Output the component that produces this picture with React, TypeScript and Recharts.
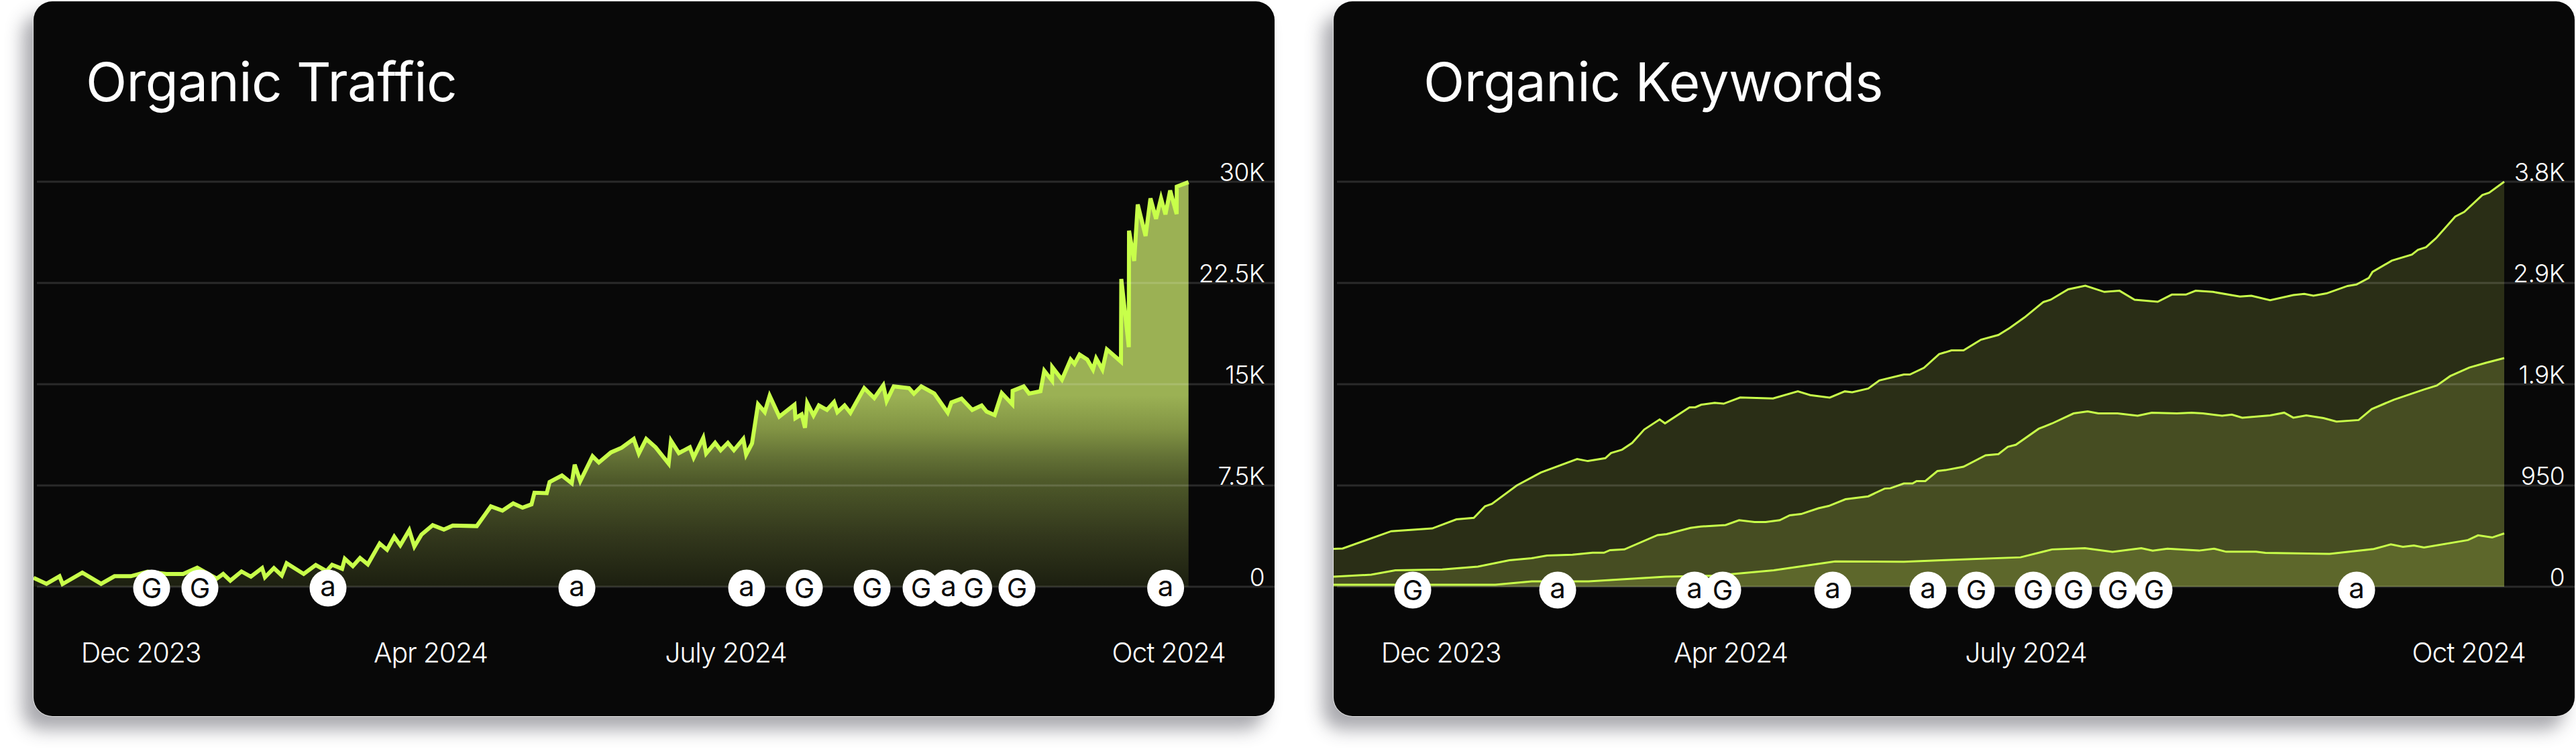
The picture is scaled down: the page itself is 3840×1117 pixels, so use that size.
import React from "react";
import { ComposedChart, Area, XAxis, YAxis, ReferenceLine, ReferenceDot } from "recharts";

const monthLabels = ["Dec 2023", "Apr 2024", "July 2024", "Oct 2024"];

const trafficPos = [
  0,19.3,38.7,43.3,72.7,100.7,120.7,145,170,198,
  223,244,273,282.7,293.3,310,324,340.7,345,358.3,
  370,377.3,402.7,420.7,436.7,445,460,464,476,486.7,
  498.3,516,527,537.7,546.7,560,567.7,578.3,595,611.7,
  625,660.7,681.7,699,715,729,742.3,746.7,765,769.3,
  787.7,802.3,806.7,815,833.3,842.7,860.7,876.7,894.7,902.3,
  913.3,927.3,946.7,950.3,962,978.3,984,998.3,1002.7,1016,
  1024.3,1035,1044,1058,1062.3,1071,1080,1090,1097.3,1111.7,
  1134.3,1135.7,1145,1150,1153.3,1162.7,1170.7,1182.7,1193.3,1198.3,
  1209,1217.7,1238.3,1253.3,1266.7,1271.7,1282.3,1305,1312.3,1323.3,
  1342.7,1362.7,1368.3,1383.3,1399.3,1413.3,1420.7,1432.7,1443.3,1459,
  1459.5,1476,1484,1501,1506.7,1518.3,1518.6,1533,1546,1551.7,
  1559.3,1570.7,1579.3,1584,1593.3,1600,1621,1621.5,1632.7,1633,
  1640.7,1646,1657.7,1665,1673.3,1680.7,1687.3,1694.3,1704,1704.2,1721.7,
];
const trafficVal = [
  660,215,780,200,1045,215,780,780,1110,945,
  945,1410,600,945,450,1130,745,1380,700,1380,
  830,1740,945,1610,1160,1625,1330,2075,1525,2125,
  1660,3200,2735,3700,3070,4190,2985,3865,4560,4230,
  4530,4490,5950,5640,6170,5855,6100,6965,6930,7760,
  8240,7660,9040,7825,9670,9200,9950,10300,10945,9870,
  10945,10330,9120,10810,9900,10330,9570,11030,9870,10660,
  10115,10660,10115,10945,9785,10610,13515,12935,14145,12600,
  13480,12490,12770,11775,13600,12690,13430,13100,13680,12935,
  13430,12885,14710,13980,14925,13765,14840,14710,14300,14840,
  14310,12900,13650,13930,13100,13430,12970,12720,14340,13515,
  14510,14840,14310,14480,16000,15260,16270,15340,16830,16500,
  17200,16830,16090,16915,16090,17580,16670,22800,17745,26370,
  24130,28310,25980,28770,27250,28770,27580,29350,27610,29640,29970,
];
const trafficTicks = [0, 7500, 15000, 22500, 30000];
const trafficTickLabels = ["0", "7.5K", "15K", "22.5K", "30K"];
const trafficBadgePos = [176, 248, 439, 810, 1063, 1149, 1250, 1323, 1364, 1401.5, 1466, 1687.6];
const trafficBadgeKind = ["G", "G", "a", "a", "a", "G", "G", "G", "a", "G", "G", "a"];

const kwTopPos = [
  0,13.5,86,147,183,209,225.6,236,273,309,363,379,405,413.5,430,445,463,486,494,530.5,
  539,548,568,581.4,606,655,692,710.5,739.6,762,773,797,813.5,850,859,880,902.6,912,921,939,
  965,991,1008,1030,1058,1069,1095,1120.6,1149,1171.6,1194,1228.5,1249.5,1270.5,1285,1311,1351,1368,1396,1430.6,
  1447,1460.6,1480,1511.5,1524.7,1543,1548.7,1577.5,1607.4,1616.4,1628.4,1643.4,1672,1685.4,1712.4,1722.5,1745,
];
const kwTopVal = [
  355,359,521,547,632,646,754,777,950,1072,1198,1179,1206,1255,1286,1349,1475,1569,1533,1683,
  1683,1708,1726,1717,1775,1766,1833,1798,1775,1833,1824,1860,1936,1991,1991,2054,2183,2200,2218,2218,
  2318,2362,2428,2527,2671,2693,2790,2825,2766,2777,2693,2674,2741,2741,2777,2766,2722,2730,2689,2737,
  2748,2730,2752,2822,2836,2896,2954,3060,3117,3161,3186,3270,3473,3517,3675,3697,3800,
];
const kwMidPos = [
  0,56,92,162,215,262,295,318,356,386,403,412,433.5,483,496.5,532,547,584.4,604.4,627.5,
  644,665,680,697,722.6,738,763,797,821.4,830,850,863,869,882,900,912,939,972,991,1005,
  1017,1051,1071,1103,1124,1140,1168.6,1198.6,1219.6,1257,1279,1296,1324.5,1339,1354.4,1396,1417,1430.6,1450,1475.6,
  1495,1528,1547.5,1580.5,1625.4,1644.6,1664.4,1693,1718,1745,
];
const kwMidVal = [
  95,113,154,162,189,248,267,292,301,319,319,343,350,485,494,552,565,579,624,607,
  607,624,670,682,736,758,821,848,921,924,969,969,991,991,1085,1094,1126,1233,1244,1313,
  1332,1482,1532,1626,1645,1626,1626,1604,1633,1626,1633,1626,1604,1615,1586,1608,1633,1586,1608,1582,
  1550,1564,1667,1755,1850,1888,1976,2057,2101,2145,
];
const kwLowPos = [
  0,241,295.5,380,495,568,656,747.5,850,912,1024,1071,1120,1161,1204,1221,1243,1290,1312.5,1330.5,
  1375,1389,1484.5,1550.5,1576,1594,1610.4,1625.4,1691,1706,1727,1745,
];
const kwLowVal = [
  19,19,50,50,95,104,154,238,234,250,276,350,362,328,362,339,357,339,357,328,
  328,318,309,354,397,375,387,368,438,482,462,500,
];
const kwTicks = [0, 950, 1900, 2850, 3800];
const kwTickLabels = ["0", "950", "1.9K", "2.9K", "3.8K"];
const kwBadgePos = [118, 334, 538, 580, 744, 886, 958, 1043, 1103, 1169, 1223, 1525];
const kwBadgeKind = ["G", "a", "a", "G", "a", "a", "G", "G", "G", "G", "G", "a"];

const monthPos = [160, 592, 1032, 1692];

const FONT = "Inter, 'Noto Sans', sans-serif";
const LIME = "#C8FF4A";
const CARD_W = 1850;
const CARD_H = 1066;
const PLOT_TOP = 269;
const PLOT_BOTTOM = 193;

function buildRows(series: Record<string, [number[], number[]]>) {
  const m = new Map<number, any>();
  Object.entries(series).forEach(([k, [xs, ys]]) => {
    xs.forEach((x, i) => {
      if (!m.has(x)) m.set(x, { pos: x });
      m.get(x)[k] = ys[i];
    });
  });
  return Array.from(m.values()).sort((a, b) => a.pos - b.pos);
}

const Badge = (kind: string, dy: number) => (p: any) => (
  <g>
    <circle cx={p.cx} cy={p.cy + dy} r={27.5} fill="#fff" />
    <text
      x={p.cx}
      y={p.cy + dy + (kind === "G" ? 14.5 : 12)}
      textAnchor="middle"
      fontFamily={FONT}
      fontWeight={400}
      fontSize={kind === "G" ? 41 : 42}
      fill="#0a0a0a"
    >
      {kind}
    </text>
  </g>
);

function Panel({ left, title, titleLeft, letterSpacing, rows, ticks, tickLabels, badges, kinds, badgeDy, gridStart, children }: any) {
  const yMax = ticks[ticks.length - 1];
  const MonthTick = (p: any) => (
    <text x={p.x} y={p.y + 113} textAnchor="middle" fontFamily={FONT} fontWeight={300} fontSize={41} letterSpacing={-1.2} fill="#fff">
      {monthLabels[monthPos.indexOf(p.payload.value)]}
    </text>
  );
  const ValueTick = (p: any) => (
    <text x={1835} y={p.y - 1} textAnchor="end" fontFamily={FONT} fontWeight={300} fontSize={37} letterSpacing={-0.6} fill="#fff">
      {tickLabels[ticks.indexOf(p.payload.value)]}
    </text>
  );
  return (
    <div
      style={{
        position: "absolute",
        left,
        top: 2,
        width: CARD_W,
        height: CARD_H,
        background: "#080808",
        borderRadius: 28,
        boxShadow: "0 1px 0 0 #e8e8e8, -1px 0 0 0 #e8e8e8, -16px 20px 26px 0 rgba(50,50,62,0.42)",
      }}
    >
      <div
        style={{
          position: "absolute",
          left: titleLeft,
          top: 72,
          fontFamily: FONT,
          fontWeight: 400,
          fontSize: 80,
          lineHeight: "96px",
          letterSpacing,
          color: "#fff",
          whiteSpace: "nowrap",
        }}
      >
        {title}
      </div>
      <ComposedChart
        width={CARD_W}
        height={CARD_H}
        data={rows}
        margin={{ top: PLOT_TOP, right: 0, left: 0, bottom: 0 }}
        style={{ position: "absolute", left: 0, top: 0 }}
      >
        <defs>
          <linearGradient id="trafficFill" x1="0" y1="0" x2="0" y2="1">
            <stop offset="0.527" stopColor="rgb(155,177,84)" />
            <stop offset="0.61" stopColor="rgb(130,148,68)" />
            <stop offset="0.677" stopColor="rgb(100,114,54)" />
            <stop offset="0.736" stopColor="rgb(79,90,42)" />
            <stop offset="0.876" stopColor="rgb(50,55,28)" />
            <stop offset="1" stopColor="rgb(28,31,16)" />
          </linearGradient>
        </defs>
        <XAxis
          dataKey="pos"
          type="number"
          domain={[0, CARD_W]}
          ticks={monthPos}
          height={PLOT_BOTTOM}
          axisLine={false}
          tickLine={false}
          tickSize={0}
          tickMargin={0}
          interval={0}
          tick={MonthTick}
        />
        <YAxis
          type="number"
          orientation="right"
          mirror
          width={2}
          domain={[0, yMax]}
          ticks={ticks}
          axisLine={false}
          tickLine={false}
          interval={0}
          tick={ValueTick}
        />
        {children}
        {ticks.map((t: number) => (
          <ReferenceLine
            key={t}
            segment={[{ x: gridStart, y: t }, { x: CARD_W, y: t }]}
            stroke="#fff"
            strokeOpacity={0.14}
            strokeWidth={3}
            ifOverflow="visible"
          />
        ))}
        {badges.map((b: number, i: number) => (
          <ReferenceDot key={i} x={b} y={0} r={27} ifOverflow="visible" shape={Badge(kinds[i], badgeDy)} />
        ))}
      </ComposedChart>
    </div>
  );
}

const trafficRows = buildRows({ traffic: [trafficPos, trafficVal] });
const kwRows = buildRows({
  top: [kwTopPos, kwTopVal],
  mid: [kwMidPos, kwMidVal],
  low: [kwLowPos, kwLowVal],
});

export default function App() {
  const kwFill = "#c5db5b";
  return (
    <div style={{ position: "absolute", left: 0, top: 0, width: 3840, height: 1117, background: "#fff", overflow: "hidden" }}>
      <Panel
        left={50}
        title="Organic Traffic"
        titleLeft={78}
        letterSpacing={-0.6}
        rows={trafficRows}
        ticks={trafficTicks}
        tickLabels={trafficTickLabels}
        badges={trafficBadgePos}
        kinds={trafficBadgeKind}
        badgeDy={2}
        gridStart={5}
      >
        <Area
          dataKey="traffic"
          type="linear"
          stroke={LIME}
          strokeWidth={6}
          strokeLinejoin="miter"
          fill="url(#trafficFill)"
          fillOpacity={1}
          dot={false}
          activeDot={false}
          connectNulls
          isAnimationActive={false}
        />
      </Panel>
      <Panel
        left={1988}
        title="Organic Keywords"
        titleLeft={134}
        letterSpacing={-0.4}
        rows={kwRows}
        ticks={kwTicks}
        tickLabels={kwTickLabels}
        badges={kwBadgePos}
        kinds={kwBadgeKind}
        badgeDy={5}
        gridStart={5}
      >
        {["top", "mid", "low"].map((k) => (
          <Area
            key={k}
            dataKey={k}
            type="linear"
            stroke={LIME}
            strokeWidth={3}
            fill={kwFill}
            fillOpacity={0.18}
            dot={false}
            activeDot={false}
            connectNulls
            isAnimationActive={false}
          />
        ))}
      </Panel>
    </div>
  );
}
